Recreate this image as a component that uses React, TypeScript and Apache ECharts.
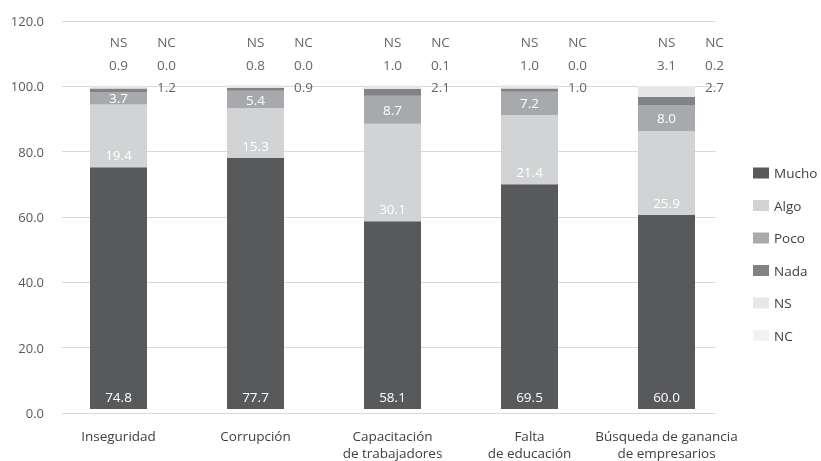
import React, { useEffect, useRef } from "react";
import * as echarts from "echarts";

const categories = [
  "Inseguridad",
  "Corrupción",
  "Capacitación\nde trabajadores",
  "Falta\nde educación",
  "Búsqueda de ganancia\nde empresarios",
];
const mucho = [74.8, 77.7, 58.1, 69.5, 60.0];
const algo = [19.4, 15.3, 30.1, 21.4, 25.9];
const poco = [3.7, 5.4, 8.7, 7.2, 8.0];
const nada = [1.2, 0.9, 2.1, 1.0, 2.7];
const ns = [0.9, 0.8, 1.0, 1.0, 3.1];
const nc = [0.0, 0.0, 0.1, 0.0, 0.2];
const yTicks = [0, 20, 40, 60, 80, 100, 120];

const FONT = "Open Sans";
const colors = {
  Mucho: "#58595b",
  Algo: "#d1d3d4",
  Poco: "#a7a9ac",
  Nada: "#808285",
  NS: "#e6e7e8",
  NC: "#f1f2f2",
};

export default function App() {
  const ref = useRef<HTMLDivElement>(null);
  useEffect(() => {
    if (!ref.current) return;
    const chart = echarts.init(ref.current, null, { renderer: "svg" });
    const insideLabel = (pos: string, dist: number) => ({
      show: true,
      position: pos,
      distance: dist,
      color: "#ffffff",
      fontFamily: FONT,
      fontSize: 13.5,
      formatter: (p: any) => Number(p.value).toFixed(1),
    });
    const barSeries = (name: string, data: number[], label?: any) => ({
      name,
      type: "bar",
      stack: "total",
      xAxisIndex: 1,
      yAxisIndex: 1,
      barWidth: 57,
      data,
      itemStyle: { color: (colors as any)[name] },
      label: label || { show: false },
      emphasis: { disabled: true },
    });
    const annot = (yVal: number, texts: (string | number)[], offsetX: number) => ({
      type: "scatter",
      xAxisIndex: 1,
      yAxisIndex: 1,
      symbolSize: 0,
      silent: true,
      data: texts.map((t, i) => [i, yVal, typeof t === "number" ? t.toFixed(1) : t]),
      label: {
        show: true,
        position: "inside",
        offset: [offsetX, 0],
        color: "#404040",
        fontFamily: FONT,
        fontSize: 13.5,
        formatter: (p: any) => p.data[2],
      },
      z: 10,
    });
    chart.setOption({
      animation: false,
      textStyle: { fontFamily: FONT },
      grid: [
        { left: 62, right: 105, top: 21, bottom: 48 },
        { left: 50, right: 86, top: 21, bottom: 48 },
      ],
      legend: {
        orient: "vertical",
        left: 748,
        top: 161,
        itemWidth: 16,
        itemHeight: 11,
        itemGap: 18.5,
        icon: "rect",
        data: ["Mucho", "Algo", "Poco", "Nada", "NS", "NC"],
        textStyle: { fontFamily: FONT, fontSize: 13.5, color: "#404040" },
        selectedMode: false,
      },
      xAxis: [
        { type: "category", gridIndex: 0, data: categories, show: false },
        {
          type: "category",
          gridIndex: 1,
          data: categories,
          axisLine: { show: false },
          axisTick: { show: false },
          axisLabel: {
            color: "#404040",
            fontFamily: FONT,
            fontSize: 13.5,
            margin: 18,
            lineHeight: 17,
            interval: 0,
          },
        },
      ],
      yAxis: [
        {
          type: "value",
          gridIndex: 0,
          min: yTicks[0],
          max: yTicks[yTicks.length - 1],
          interval: 20,
          axisLine: { show: false },
          axisTick: { show: false },
          splitLine: { lineStyle: { color: "#d9d9d9", width: 1 } },
          axisLabel: {
            color: "#595959",
            fontFamily: FONT,
            fontSize: 13,
            margin: 18,
            formatter: (v: number) => v.toFixed(1),
          },
        },
        {
          type: "value",
          gridIndex: 1,
          min: yTicks[0],
          max: yTicks[yTicks.length - 1],
          interval: 20,
          show: false,
          splitLine: { show: false },
        },
      ],
      series: [
        barSeries("Mucho", mucho, insideLabel("insideBottom", 5)),
        barSeries("Algo", algo, insideLabel("insideBottom", 5)),
        barSeries("Poco", poco, insideLabel("inside", 0)),
        barSeries("Nada", nada),
        barSeries("NS", ns),
        barSeries("NC", nc),
        annot(113.6, categories.map(() => "NS"), 0),
        annot(113.6, categories.map(() => "NC"), 48),
        annot(106.5, ns, 0),
        annot(106.5, nc, 48),
        annot(99.5, nada, 48),
      ],
    });
    return () => chart.dispose();
  }, []);
  return (
    <div
      ref={ref}
      style={{ position: "fixed", left: 0, top: 0, width: 821, height: 461 }}
    />
  );
}
